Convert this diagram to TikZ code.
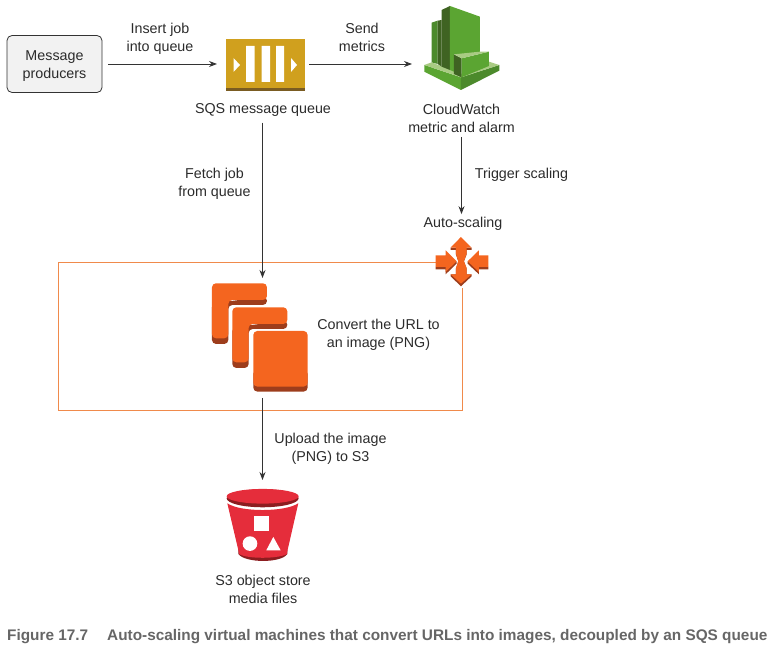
\documentclass[tikz,border=0pt]{standalone}
\usepackage{fontspec}
\setmainfont{Liberation Sans}
\usetikzlibrary{arrows.meta}
\definecolor{ink}{HTML}{2B2B2B}
\definecolor{linec}{HTML}{333333}
\definecolor{boxline}{HTML}{F08A4B}
\definecolor{orangeM}{HTML}{F4651F}
\definecolor{orangeD}{HTML}{9D3D1C}
\definecolor{goldM}{HTML}{D0A01E}
\definecolor{goldD}{HTML}{7A5C22}
\definecolor{grnB}{HTML}{5BA532}
\definecolor{grnM}{HTML}{4C8A2C}
\definecolor{grnD}{HTML}{3F6322}
\definecolor{grnL}{HTML}{A9CB83}
\definecolor{redM}{HTML}{E52D3B}
\definecolor{redD}{HTML}{8C1D20}
\definecolor{capc}{HTML}{666666}
\tikzset{
  lbl/.style={font=\fontsize{14.3}{18}\selectfont, text=ink, align=center, inner sep=0pt},
  conn/.style={draw=linec, line width=0.9pt, -{Stealth[length=8pt,width=6pt]}},
  hit/.style={inner sep=0pt, outer sep=0pt, draw=none, fill=none},
  prod/.style={draw=black!80, line width=0.8pt, fill=black!5, rounded corners=5pt, minimum width=95pt, minimum height=57pt, inner sep=0pt},
  zoomed/.style={x=0.3333pt, y=-0.3333pt}
}
\newcommand{\Lform}[2]{%
  \begin{scope}[shift={(#1,#2)}]
    \fill[orangeD, rounded corners=4pt] (66,100) -- (66,222) -- (115,222) -- (115,105) -- (231,105) -- (231,80) -- cycle;
    \fill[orangeM, rounded corners=4pt] (66,40) -- (231,40) -- (231,90) -- (115,90) -- (115,205) -- (66,205) -- cycle;
  \end{scope}}
\begin{document}
\begin{tikzpicture}[x=1pt,y=-1pt]
\useasboundingbox (0,0) rectangle (772,652);
% scaling box
\coordinate (boxA) at (58,262);
\coordinate (boxB) at (58,410);
\coordinate (boxC) at (462,410);
\node[hit, minimum width=52pt, minimum height=52pt] (auto) at (462,262) {};
\draw[boxline, line width=0.9pt] (auto.west) -- (boxA) -- (boxB) -- (boxC) -- (auto.south);
% anchor nodes for the icons
\node[prod] (msg) at (54.5,64) {};
\node[hit, minimum width=92pt, minimum height=52pt] (sqs) at (263,64) {};
\node[hit, minimum width=84pt, minimum height=90pt] (cw) at (454,64) {};
\node[hit, minimum width=100pt, minimum height=120pt] (ec2) at (262.5,338) {};
\node[hit, minimum width=80pt, minimum height=80pt] (s3) at (262.5,520) {};
% SQS
\fill[goldM] (226,39.5) rectangle (305,88);
\fill[goldD] (226,88) rectangle (305,91);
\fill[white] (246,46) rectangle (254.5,82) (261.5,46) rectangle (270,82) (276,46) rectangle (284,82);
\fill[white] (233.5,58) -- (240,65) -- (233.5,72) -- cycle (291,58) -- (297,65) -- (291,72) -- cycle;
% CloudWatch
\begin{scope}[zoomed, shift={(1245,0)}]
  \fill[grnB] (28,195) -- (138,232) -- (138,270) -- (28,215) -- cycle;
  \fill[grnM] (138,232) -- (253,195) -- (253,212) -- (138,270) -- cycle;
  \fill[grnL] (28,195) -- (50,187) -- (138,222) -- (222,185) -- (253,195) -- (138,232) -- cycle;
  \fill[grnM] (50,68) -- (68,62) -- (68,192) -- (50,187) -- cycle;
  \fill[grnD] (68,62) -- (80,60) -- (80,200) -- (68,192) -- cycle;
  \fill[grnD] (80,30) -- (105,18) -- (105,210) -- (80,200) -- cycle;
  \fill[grnB] (105,18) -- (195,50) -- (195,160) -- (117,163) -- (117,215) -- (105,210) -- cycle;
  \fill[grnD] (117,163) -- (140,175) -- (140,232) -- (117,222) -- cycle;
  \fill[grnB] (140,175) -- (222,155) -- (222,198) -- (140,232) -- cycle;
  \fill[grnL] (117,163) -- (195,155) -- (222,155) -- (140,175) -- cycle;
\end{scope}
% Auto-scaling
\begin{scope}[zoomed, shift={(1290,696)}]
  % vertical double arrow: shadow, then face
  \fill[orangeD] (62,47) -- (62,54) -- (78,54) -- (78,68) -- (85,88) -- (78,110) -- (78,127) -- (62,127) -- (62,133) -- (93,163) -- (125,133) -- (125,127) -- (110,127) -- (110,110) -- (102,88) -- (110,68) -- (110,54) -- (125,54) -- (125,47) -- cycle;
  \fill[orangeM] (93,15) -- (125,47) -- (110,47) -- (110,65) -- (102,88) -- (110,108) -- (110,127) -- (125,127) -- (93,155) -- (62,127) -- (78,127) -- (78,108) -- (85,88) -- (78,65) -- (78,47) -- (62,47) -- cycle;
  % left arrow
  \fill[orangeD] (17,105) -- (17,112) -- (47,112) -- (47,127) -- (80,95) -- (80,88) -- cycle;
  \fill[orangeM] (17,70) -- (47,70) -- (47,55) -- (80,88) -- (47,120) -- (47,105) -- (17,105) -- cycle;
  % right arrow
  \fill[orangeD] (175,105) -- (175,112) -- (147,112) -- (147,127) -- (113,95) -- (113,88) -- cycle;
  \fill[orangeM] (175,70) -- (147,70) -- (147,55) -- (113,88) -- (147,120) -- (147,105) -- (175,105) -- cycle;
\end{scope}
% EC2
\begin{scope}[zoomed, shift={(570,810)}]
  \Lform{0}{0}
  \Lform{61}{72}
  \fill[orangeD, rounded corners=4pt] (190,300) rectangle (353,365);
  \fill[orangeM, rounded corners=4pt] (190,183) rectangle (353,350);
\end{scope}
% S3
\begin{scope}[zoomed, shift={(630,1425)}]
  \fill[redD] (85,225) -- (232,225) -- (232,237) .. controls (215,265) and (105,265) .. (85,237) -- cycle;
  \fill[redM] (52,85) .. controls (90,112) and (225,112) .. (265,85) -- (230,238) .. controls (200,252) and (115,252) .. (88,238) -- cycle;
  \fill[redD] (158,70) ellipse[x radius=108, y radius=27];
  \fill[redM] (158,64) ellipse[x radius=108, y radius=22];
  \fill[white] (133,123) rectangle (178,167);
  \fill[white] (120,206) circle[radius=22];
  \fill[white] (169,226) -- (190,186) -- (212,226) -- cycle;
\end{scope}
% text
\node[lbl] at (54.5,66.5) {Message\\producers};
\node[lbl] at (160,38.5) {Insert job\\into queue};
\node[lbl] at (362,37) {Send\\metrics};
\node[lbl] (sqsl) at (263,110) {SQS message queue};
\node[lbl] (cwl) at (461.5,118.5) {CloudWatch\\metric and alarm};
\node[lbl] at (214.5,184) {Fetch job\\from queue};
\node[lbl] at (521.5,175) {Trigger scaling};
\node[lbl] (autol) at (463,224) {Auto-scaling};
\node[lbl] at (378.5,334.5) {Convert the URL to\\an image (PNG)};
\node[lbl] at (330.5,449) {Upload the image\\(PNG) to S3};
\node[lbl] at (263,589) {S3 object store\\media files};
\node[anchor=west, inner sep=0pt, text=capc, font=\bfseries\fontsize{15.35}{16}\selectfont] at (7,637) {Figure 17.7\hspace{19pt}Auto-scaling virtual machines that convert URLs into images, decoupled by an SQS queue};
% connectors
\draw[conn, shorten <=6pt] (msg.east) -- (sqs.west);
\draw[conn] (sqs.east) -- (cw.west);
\draw[conn, shorten <=6pt] (sqsl.south -| ec2.north) -- (ec2.north);
\draw[conn, shorten <=4pt, shorten >=3pt] (cwl.south) -- (cwl.south |- autol.north);
\draw[conn] (ec2.south) -- (s3.north);
\end{tikzpicture}
\end{document}
